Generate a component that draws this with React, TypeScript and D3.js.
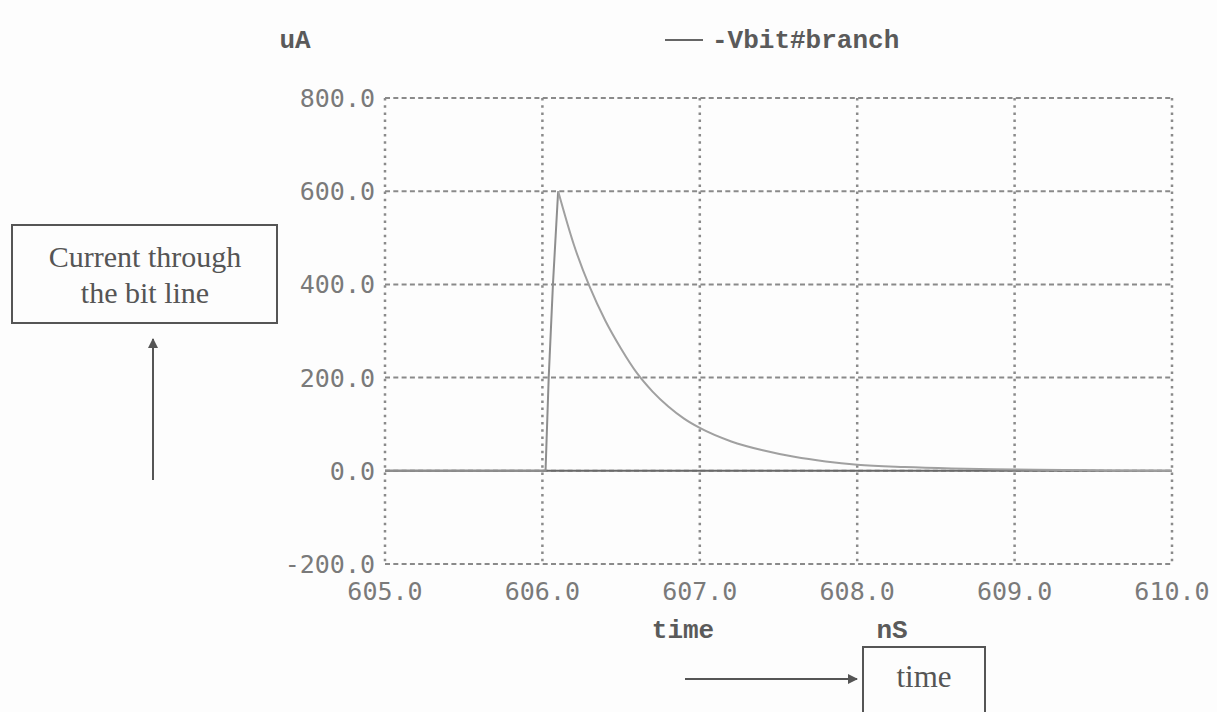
import React from "react";
import * as d3 from "d3";

const W = 1217;
const H = 712;

const xTicks = [605, 606, 607, 608, 609, 610];
const yTicks = [-200, 0, 200, 400, 600, 800];
const xTickLabels = ["605.0", "606.0", "607.0", "608.0", "609.0", "610.0"];
const yTickLabels = ["-200.0", "0.0", "200.0", "400.0", "600.0", "800.0"];

const seriesName = "-Vbit#branch";
const timeNs = [605.0, 606.0, 606.02, 606.04, 606.067, 606.1, 606.2, 606.3, 606.4, 606.5, 606.6, 606.7, 606.8, 606.9, 607.0, 607.2, 607.4, 607.6, 607.8, 608.0, 608.3, 608.6, 609.0, 609.5, 610.0];
const currentUA = [0, 0, 0, 200, 400, 600, 485, 395, 322, 262, 210, 170, 138, 112, 92, 63, 44, 30, 20, 13, 8, 5, 3, 1, 0];

export default function App() {
  const x = d3.scaleLinear().domain([605, 610]).range([385, 1172]);
  const y = d3.scaleLinear().domain([-200, 800]).range([564, 98]);
  const pts = timeNs.map((t, i) => [t, currentUA[i]] as [number, number]);
  const peak = d3.maxIndex(currentUA);
  const rise = d3.line<[number, number]>().x((d) => x(d[0])).y((d) => y(d[1]));
  const decay = d3
    .line<[number, number]>()
    .x((d) => x(d[0]))
    .y((d) => y(d[1]))
    .curve(d3.curveMonotoneX);
  const grid = "#8a8a8a";
  const tickFont = "'DejaVu Sans Mono', monospace";
  const labFont = "'Liberation Mono', 'Courier New', monospace";
  const serif = "'Liberation Serif', 'Times New Roman', serif";
  return (
    <svg width={W} height={H} style={{ position: "absolute", left: 0, top: 0, background: "#fdfdfd" }}>
      <defs>
        <marker id="ah" markerWidth="10" markerHeight="10" refX="9" refY="5" orient="auto" markerUnits="userSpaceOnUse">
          <path d="M0,0 L10,5 L0,10 Z" fill="#555" />
        </marker>
      </defs>
      {yTicks.map((v) => (
        <line key={"h" + v} x1={x(605)} x2={x(610)} y1={y(v)} y2={y(v)} stroke={grid} strokeWidth={2} strokeDasharray="5 3.3" />
      ))}
      {xTicks.map((v) => (
        <line key={"v" + v} x1={x(v)} x2={x(v)} y1={y(800)} y2={y(-200)} stroke={grid} strokeWidth={2.5} strokeDasharray="2.5 4.7" />
      ))}
      <line x1={x(605)} x2={x(610)} y1={y(0)} y2={y(0)} stroke="#6a6a6a" strokeWidth={2} />
      <path d={rise(pts.slice(0, peak + 1)) || ""} fill="none" stroke="#8e8e8e" strokeWidth={2} />
      <path d={decay(pts.slice(peak)) || ""} fill="none" stroke="#a0a0a0" strokeWidth={2} />
      {yTicks.map((v, i) => (
        <text key={"yl" + v} x={375} y={y(v)} dy="0.36em" textAnchor="end" fontFamily={tickFont} fontSize={25} fill="#7a7a7a">
          {yTickLabels[i]}
        </text>
      ))}
      {xTicks.map((v, i) => (
        <text key={"xl" + v} x={x(v)} y={600} textAnchor="middle" fontFamily={tickFont} fontSize={25} fill="#7a7a7a">
          {xTickLabels[i]}
        </text>
      ))}
      <text x={295} y={48} textAnchor="middle" fontFamily={labFont} fontWeight="bold" fontSize={26} fill="#5a5a5a">uA</text>
      <text x={683} y={638} textAnchor="middle" fontFamily={labFont} fontWeight="bold" fontSize={26} fill="#5a5a5a">time</text>
      <text x={892} y={638} textAnchor="middle" fontFamily={labFont} fontWeight="bold" fontSize={26} fill="#5a5a5a">nS</text>
      <line x1={665} x2={703} y1={40} y2={40} stroke="#666" strokeWidth={2} />
      <text x={712} y={48} fontFamily={labFont} fontWeight="bold" fontSize={26} fill="#5a5a5a">{seriesName}</text>
      <rect x={12} y={225} width={265} height={98} fill="none" stroke="#555" strokeWidth={2} />
      <text x={145} y={267} textAnchor="middle" fontFamily={serif} fontSize={30} fill="#555">Current through</text>
      <text x={145} y={303} textAnchor="middle" fontFamily={serif} fontSize={30} fill="#555">the bit line</text>
      <line x1={153} x2={153} y1={480} y2={339} stroke="#555" strokeWidth={2} markerEnd="url(#ah)" />
      <line x1={685} x2={857} y1={679} y2={679} stroke="#555" strokeWidth={2} markerEnd="url(#ah)" />
      <rect x={863} y={647} width={122} height={80} fill="none" stroke="#555" strokeWidth={2} />
      <text x={924} y={687} textAnchor="middle" fontFamily={serif} fontSize={31} fill="#555">time</text>
    </svg>
  );
}
